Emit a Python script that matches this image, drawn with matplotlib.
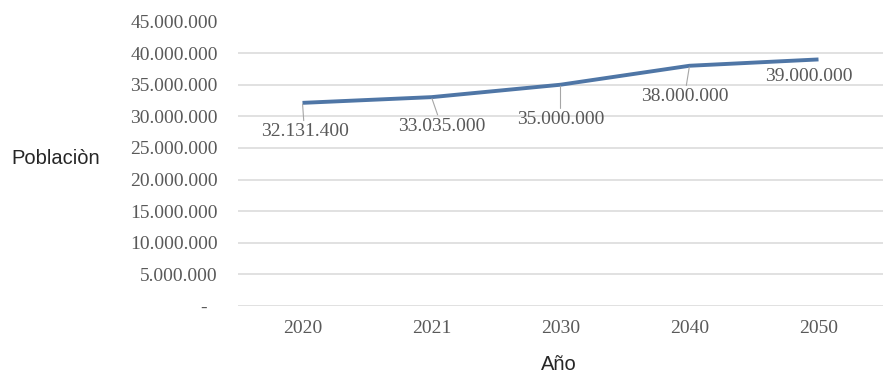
import matplotlib
matplotlib.use("Agg")
import matplotlib.pyplot as plt
from matplotlib.ticker import FuncFormatter, MultipleLocator

# population projection
years = ["2020", "2021", "2030", "2040", "2050"]
population = [32131400, 33035000, 35000000, 38000000, 39000000]

# label offsets from each point (pixels) and whether a leader line is drawn
label_offsets = [(2, -29), (10, -29), (0, -35), (-5, -31), (-10, -17)]
leader = [True, True, True, True, False]

GRAY = "#595959"
SERIF = "Liberation Serif"
FS = 14


def miles(v, pos=None):
    if v == 0:
        return "-  "
    return f"{int(v):,}".replace(",", ".")


fig = plt.figure(figsize=(8.83, 3.74), dpi=100)
ax = fig.add_axes([238 / 883, 1 - 306 / 374, 1 - 238 / 883, (306 - 21.5) / 374])

x = list(range(len(years)))
ax.plot(x, population, color="#4f76a6", lw=2.8, solid_capstyle="butt", zorder=3)

for xi, v, off, lead in zip(x, population, label_offsets, leader):
    arrow = dict(arrowstyle="-", color="#a6a6a6", lw=0.8, shrinkA=0, shrinkB=1) if lead else None
    ax.annotate(miles(v), xy=(xi, v), xytext=off, textcoords="offset pixels",
                ha="center", va="center", fontsize=FS, family=SERIF, color=GRAY,
                arrowprops=arrow, zorder=4)

ax.set_xlim(-0.5, len(years) - 0.5)
ax.set_ylim(0, 45000000)
ax.yaxis.set_major_locator(MultipleLocator(5000000))
ax.yaxis.set_major_formatter(FuncFormatter(miles))
ax.set_xticks(x)
ax.set_xticklabels(years)

ax.grid(axis="y", color="#d9d9d9", lw=1.1)
ax.set_axisbelow(True)
for s in ax.spines.values():
    s.set_visible(False)
ax.tick_params(length=0)
ax.tick_params(axis="y", pad=14.5)
ax.tick_params(axis="x", pad=10)
for lbl in ax.get_xticklabels() + ax.get_yticklabels():
    lbl.set_family(SERIF)
    lbl.set_fontsize(FS)
    lbl.set_color(GRAY)

fig.text(56 / 883, 1 - 159 / 374, "Poblaciòn", ha="center", va="center",
         fontsize=14.5, family="Liberation Sans", color="#262626")
fig.text(559 / 883, 1 - 365 / 374, "Año", ha="center", va="center",
         fontsize=14.5, family="Liberation Sans", color="#262626")

fig.savefig("out.png", dpi=100)
